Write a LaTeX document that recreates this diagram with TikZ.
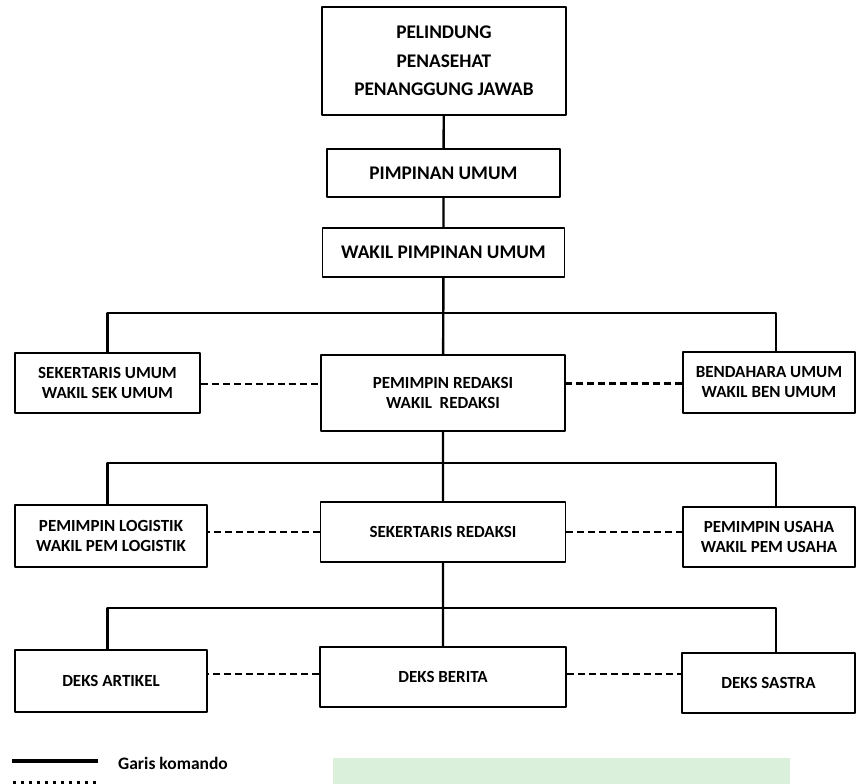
\documentclass[tikz,border=0pt]{standalone}
\usepackage{fontspec}
\setmainfont{Carlito}
\begin{document}
\begin{tikzpicture}[x=1pt,y=-1pt, font=\bfseries, line join=round,
	box/.style={draw, line width=1.8pt, inner sep=0pt, align=center, font=\bfseries\fontsize{17}{20}\selectfont},
	link/.style={line width=2.4pt},
	koord/.style={line width=2.4pt, dash pattern=on 7pt off 4pt}]
	\useasboundingbox (0,0) rectangle (857,784);
	\node[box, minimum width=244, minimum height=108, font=\bfseries\fontsize{19.3}{28.5}\selectfont] (lind) at (444,61) {PELINDUNG\\PENASEHAT\\PENANGGUNG JAWAB};
	\node[box, minimum width=233, minimum height=48, font=\bfseries\fontsize{19.3}{22}\selectfont] (pu) at (443.5,173) {PIMPINAN UMUM};
	\node[box, minimum width=242, minimum height=49, font=\bfseries\fontsize{19.3}{22}\selectfont] (wpu) at (443.5,252.5) {WAKIL PIMPINAN UMUM};
	\node[box, minimum width=185, minimum height=60] (seku) at (107.5,383) {SEKERTARIS UMUM\\WAKIL SEK UMUM};
	\node[box, minimum width=244, minimum height=76] (pr) at (443,393) {PEMIMPIN REDAKSI\\WAKIL\ \ REDAKSI};
	\node[box, minimum width=172, minimum height=61] (bend) at (769,382.5) {BENDAHARA UMUM\\WAKIL BEN UMUM};
	\node[box, minimum width=192, minimum height=62] (log) at (111,536) {PEMIMPIN LOGISTIK\\WAKIL PEM LOGISTIK};
	\node[box, minimum width=245, minimum height=60] (sred) at (443,532) {SEKERTARIS REDAKSI};
	\node[box, minimum width=172, minimum height=60] (usaha) at (769,537) {PEMIMPIN USAHA\\WAKIL PEM USAHA};
	\node[box, minimum width=192, minimum height=62] (art) at (111,681) {DEKS ARTIKEL};
	\node[box, minimum width=246, minimum height=60] (ber) at (443,677) {DEKS BERITA};
	\node[box, minimum width=173, minimum height=60] (sas) at (768.5,683) {DEKS SASTRA};
	\coordinate (A1) at (107.5,313);
	\coordinate (B1) at (776,313);
	\coordinate (A2) at (107.5,463);
	\coordinate (B2) at (776,463);
	\coordinate (A3) at (107.5,608);
	\coordinate (B3) at (776,608);
	\draw[link] (lind)--(pu) (pu)--(wpu) (wpu)--(pr) (pr)--(sred) (sred)--(ber);
	\draw[link] (seku.north)--(A1)--(B1)--(B1|-bend.north);
	\draw[link] (A2|-log.north)--(A2)--(B2)--(B2|-usaha.north);
	\draw[link] (A3|-art.north)--(A3)--(B3)--(B3|-sas.north);
	\draw[koord] ([yshift=-1pt]seku.east)--([yshift=-1pt]seku.east-|pr.west) ([yshift=-1pt]bend.west)--([yshift=-1pt]bend.west-|pr.east);
	\draw[koord] (sred.west)--(sred.west-|log.east) (sred.east)--(sred.east-|usaha.west);
	\draw[koord] ([yshift=3pt]ber.west)--([yshift=3pt]ber.west-|art.east) ([yshift=3pt]ber.east)--([yshift=3pt]ber.east-|sas.west);
	% keterangan
	\fill[green!40!gray!25, opacity=0.8] (333,758) rectangle (790,784);
	\coordinate (K1) at (12,761);
	\coordinate (K2) at (98,761);
	\coordinate (K3) at (13,782);
	\coordinate (K4) at (98,782);
	\draw[line width=3.5pt] (K1)--(K2);
	\draw[line width=3pt, dash pattern=on 3pt off 5pt] (K3)--(K4);
	\node[anchor=west, inner sep=0pt, font=\bfseries\fontsize{17.5}{20}\selectfont] (ket) at (118,763) {Garis komando};
\end{tikzpicture}
\end{document}
